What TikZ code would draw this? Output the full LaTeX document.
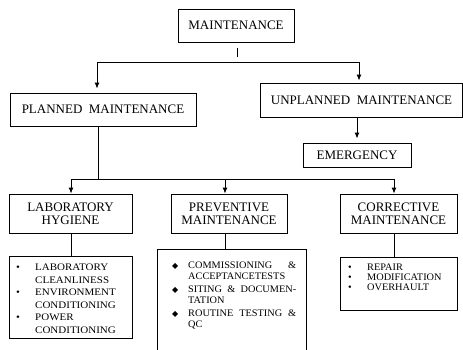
\documentclass[tikz,border=0pt]{standalone}
\usepackage{fontspec}
\setmainfont{Liberation Serif}
\newfontfamily\symfont{DejaVu Sans}
\newfontfamily\lablistfont[FakeStretch=1.1]{Liberation Serif}
\newfontfamily\otherlistfont[FakeStretch=1.03]{Liberation Serif}
\usetikzlibrary{arrows.meta}
\newcommand{\lbul}{\makebox[26pt][l]{\hspace{7pt}•}}
\newcommand{\lind}{\hspace*{26pt}}
\newcommand{\pbul}{\makebox[30pt][l]{\hspace{14pt}{\symfont\fontsize{8}{8}\selectfont ◆}}}
\newcommand{\pind}{\hspace*{30pt}}
\newcommand{\cbul}{\makebox[27pt][l]{\hspace{8pt}•}}
\begin{document}
\begin{tikzpicture}[x=1pt,y=-1pt,
  box/.style={draw,line width=0.9pt,inner sep=0pt,font=\fontsize{13}{13}\selectfont,align=center},
  listbox/.style={draw,line width=0.9pt,inner sep=0pt},
  conn/.style={line width=0.9pt},
  arr/.style={conn,-{Latex[length=6pt,width=5pt]}},
  listtxt/.style={inner sep=0pt,anchor=north west,align=left}]
\useasboundingbox[fill=white] (0,0) rectangle (463,349);

% heading boxes
\node[box,minimum width=116pt,minimum height=33pt] (maint) at (236,25.5) {MAINTENANCE};
\node[box,minimum width=186pt,minimum height=33pt] (planned) at (103,109.5) {PLANNED\ \ MAINTENANCE};
\node[box,minimum width=202pt,minimum height=34pt] (unplanned) at (361.5,100) {UNPLANNED\ \ MAINTENANCE};
\node[box,minimum width=108pt,minimum height=24pt] (emerg) at (357,155) {EMERGENCY};
\node[box,minimum width=123pt,minimum height=39pt] (lab) at (70.5,213.5) {LABORATORY\\HYGIENE};
\node[box,minimum width=116pt,minimum height=39pt] (prev) at (229,213.5) {PREVENTIVE\\MAINTENANCE};
\node[box,minimum width=117pt,minimum height=39pt] (corr) at (398.5,213.5) {CORRECTIVE\\MAINTENANCE};

% list boxes
\node[listbox,minimum width=123pt,minimum height=82pt] (lablist) at (70.5,297) {};
\node[inner sep=0pt,minimum width=148pt,minimum height=102pt] (prevlist) at (232,301) {};
\draw[line width=0.9pt] (prevlist.south west) -- (prevlist.north west) -- (prevlist.north east) -- (prevlist.south east);
\node[listbox,minimum width=117pt,minimum height=53pt] (corrlist) at (398.5,283.5) {};

% list texts
\node[listtxt,font=\lablistfont\fontsize{10}{12.6}\selectfont] (labtxt) at (9,263.7)
  {\lbul LABORATORY\\\lind CLEANLINESS\\\lbul ENVIRONMENT\\\lind CONDITIONING\\\lbul POWER\\\lind CONDITIONING};
\node[listtxt,font=\otherlistfont\fontsize{10}{11}\selectfont] (prevtxt) at (158,261.7)
  {\pbul\makebox[108pt][l]{COMMISSIONING\hfill\&}\\
   \pind ACCEPTANCETESTS\\[2pt]
   \pbul\makebox[108pt][s]{SITING \& DOCUMEN-}\\
   \pind TATION\\[2pt]
   \pbul\makebox[108pt][s]{ROUTINE TESTING \&}\\
   \pind QC};
\node[listtxt,font=\otherlistfont\fontsize{10}{10}\selectfont] (corrtxt) at (340,263.7)
  {\cbul REPAIR\\\cbul MODIFICATION\\\cbul OVERHAULT};

% connectors
\coordinate (tickt) at (237,48);
\coordinate (tickb) at (237,57);
\draw[conn] (tickt) -- (tickb);
\coordinate (busL) at (97,62);
\coordinate (busR) at (359,62);
\draw[conn] (busL) -- (busR);
\draw[arr,shorten >=4pt] (busL) -- (busL |- planned.north);
\draw[arr,shorten >=2pt] (busR) -- (busR |- unplanned.north);

\coordinate (pdown) at (98,179);
\draw[conn] (pdown |- planned.south) -- (pdown);
\coordinate (bus2L) at (71,179);
\coordinate (bus2M) at (225,179);
\coordinate (bus2R) at (394,179);
\draw[conn] (bus2L) -- (bus2R);
\draw[arr] (bus2L) -- (bus2L |- lab.north);
\draw[arr] (bus2M) -- (bus2M |- prev.north);
\draw[arr] (bus2R) -- (bus2R |- corr.north);

\coordinate (ue) at (357,120);
\draw[arr,shorten >=4pt] (ue |- unplanned.south) -- (ue |- emerg.north);

\draw[conn] (bus2L |- lab.south) -- (bus2L |- lablist.north);
\draw[conn] (bus2M |- prev.south) -- (bus2M |- prevlist.north);
\draw[conn] (bus2R |- corr.south) -- (bus2R |- corrlist.north);
\end{tikzpicture}
\end{document}
